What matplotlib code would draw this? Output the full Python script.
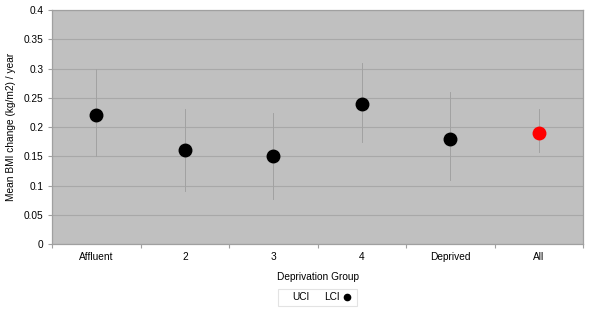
import numpy as np
import matplotlib
matplotlib.use("Agg")
import matplotlib.pyplot as plt
from matplotlib.lines import Line2D

# === DATA ===
groups = ["Affluent", "2", "3", "4", "Deprived", "All"]
mean_change = [0.22, 0.16, 0.15, 0.24, 0.18, 0.19]
uci = [0.30, 0.23, 0.224, 0.31, 0.26, 0.23]
lci = [0.15, 0.09, 0.077, 0.175, 0.11, 0.157]
dot_colors = ["black", "black", "black", "black", "black", "red"]
y_ticks = [0, 0.05, 0.1, 0.15, 0.2, 0.25, 0.3, 0.35, 0.4]
y_tick_labels = ["0", "0.05", "0.1", "0.15", "0.2", "0.25", "0.3", "0.35", "0.4"]

plt.rcParams["font.family"] = ["Liberation Sans", "DejaVu Sans"]

fig = plt.figure(figsize=(6.0, 3.27), dpi=100)
ax = fig.add_axes([0.0867, 0.2538, 0.885, 0.7156])
ax.set_facecolor("#c0c0c0")

x = np.arange(len(groups))

# error lines (UCI to LCI)
for xi, lo, hi in zip(x, lci, uci):
    ax.plot([xi, xi], [lo, hi], color="#a2a2a2", lw=0.7, zorder=2)

# means
for xi, m, c in zip(x, mean_change, dot_colors):
    ax.plot(xi, m, "o", color=c, markersize=9, zorder=3)

ax.set_xlim(-0.5, len(groups) - 0.5)
ax.set_ylim(0, 0.4)
ax.set_yticks(y_ticks)
ax.set_yticklabels(y_tick_labels)
ax.yaxis.grid(True, color="#a8a8a8", lw=0.8)
ax.set_axisbelow(True)

# category labels between boundary ticks (Excel style)
ax.set_xticks(np.arange(len(groups) + 1) - 0.5)
ax.set_xticklabels([])
ax.set_xticks(x, minor=True)
ax.set_xticklabels(groups, minor=True)
ax.tick_params(axis="x", which="minor", length=0, pad=6, labelsize=7.3)
ax.tick_params(axis="x", which="major", length=3, color="#a0a0a0")
ax.tick_params(axis="y", length=3, color="#a0a0a0", labelsize=7.3, pad=3)

for s in ax.spines.values():
    s.set_color("#a0a0a0")
    s.set_linewidth(0.9)

ax.set_xlabel("Deprivation Group", fontsize=7.3, labelpad=7)
ax.set_ylabel("Mean BMI change (kg/m2) / year", fontsize=7.3, labelpad=6)

handles = [
    Line2D([], [], linestyle="none"),
    Line2D([], [], linestyle="none"),
    Line2D([], [], marker="o", color="black", linestyle="none", markersize=4.5),
]
leg = fig.legend(handles, ["UCI", "LCI", ""], loc="center",
                 bbox_to_anchor=(0.529, 0.091), ncol=3, fontsize=7.3,
                 frameon=True, fancybox=False, handlelength=0.9,
                 handletextpad=0.2, columnspacing=0.3, borderpad=0.35,
                 borderaxespad=0)
leg.get_frame().set_edgecolor("#dcdcdc")
leg.get_frame().set_linewidth(0.8)

fig.savefig("out.png", dpi=100)
